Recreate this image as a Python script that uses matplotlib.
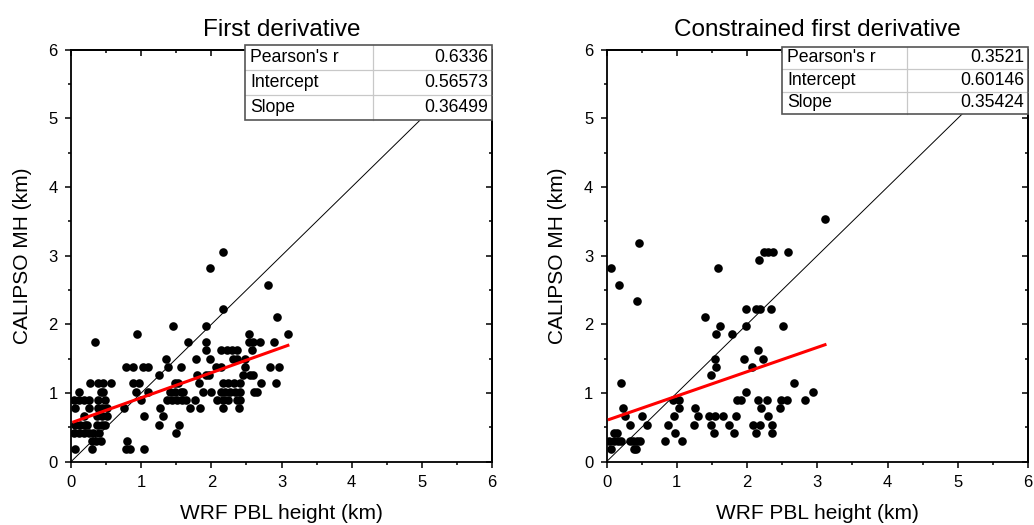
import matplotlib
matplotlib.use("Agg")
import matplotlib.pyplot as plt
from matplotlib.patches import Rectangle
from matplotlib.ticker import MultipleLocator
import numpy as np

plt.rcParams["font.family"] = ["Liberation Sans", "DejaVu Sans"]

# CALIPSO MH levels (km) and the WRF PBL heights (km) found on each level
left_levels = [0.18, 0.30, 0.42, 0.54, 0.66, 0.78, 0.90, 1.02, 1.14, 1.26, 1.38,
               1.50, 1.62, 1.74, 1.86, 1.98, 2.10, 2.22, 2.58, 2.82, 3.06]
left_x_by_level = [
    [0.05, 0.30, 0.78, 0.84, 1.04],
    [0.30, 0.36, 0.42, 0.80],
    [0.04, 0.11, 0.19, 0.26, 0.32, 0.40, 1.50],
    [0.06, 0.13, 0.20, 0.23, 0.37, 0.44, 0.49, 1.25, 1.54],
    [0.18, 0.37, 0.44, 0.51, 1.04, 1.31],
    [0.06, 0.26, 0.39, 0.44, 0.51, 0.76, 1.27, 1.70, 1.84, 2.17, 2.39],
    [0.04, 0.11, 0.18, 0.25, 0.39, 0.49, 0.99, 1.37, 1.44, 1.51, 1.58, 1.64,
     1.77, 2.08, 2.17, 2.24, 2.36, 2.41],
    [0.12, 0.42, 0.46, 0.93, 1.09, 1.41, 1.48, 1.56, 1.60, 1.88, 1.99, 2.13,
     2.20, 2.27, 2.34, 2.41, 2.61, 2.65],
    [0.27, 0.39, 0.46, 0.57, 0.88, 0.97, 1.48, 1.53, 1.83, 2.17, 2.24, 2.32,
     2.41, 2.70, 2.92],
    [1.26, 1.79, 1.93, 1.96, 2.45, 2.55, 2.59],
    [0.79, 0.88, 1.03, 1.09, 1.38, 1.56, 2.07, 2.13, 2.48, 2.84, 2.96],
    [1.35, 1.78, 1.98, 2.31, 2.36, 2.48],
    [1.93, 2.13, 2.22, 2.29, 2.36, 2.58],
    [0.34, 1.67, 1.93, 2.53, 2.60, 2.69, 2.89],
    [0.94, 2.54, 3.09],
    [1.46, 1.93],
    [2.93],
    [2.17],
    [2.81],
    [1.98],
    [2.17],
]

right_levels = [0.18, 0.30, 0.42, 0.54, 0.66, 0.78, 0.90, 1.02, 1.14, 1.26, 1.38,
                1.50, 1.62, 1.86, 1.98, 2.10, 2.22, 2.34, 2.58, 2.82, 2.94, 3.06,
                3.18, 3.54]
right_x_by_level = [
    [0.06, 0.39, 0.42],
    [0.04, 0.10, 0.17, 0.20, 0.33, 0.38, 0.43, 0.47, 0.83, 1.08],
    [0.10, 0.15, 0.98, 1.53, 1.81, 2.13, 2.36],
    [0.33, 0.57, 0.87, 1.25, 1.49, 1.75, 2.09, 2.19, 2.36],
    [0.26, 0.51, 0.96, 1.30, 1.46, 1.54, 1.66, 1.84, 2.30],
    [0.23, 1.03, 1.26, 2.20, 2.47],
    [0.94, 1.03, 1.86, 1.92, 2.16, 2.28, 2.49, 2.57, 2.83],
    [1.98, 2.94],
    [0.20, 2.67],
    [1.48],
    [1.56, 2.07],
    [1.54, 1.96, 2.23],
    [2.16],
    [1.56, 1.78],
    [1.62, 1.98, 2.51],
    [1.40],
    [1.98, 2.13, 2.18, 2.34],
    [0.43],
    [0.18],
    [0.06, 1.58],
    [2.17],
    [2.24, 2.30, 2.37, 2.59],
    [0.46],
    [3.11],
]

stat_names = ["Pearson's r", "Intercept", "Slope"]
left_stats = ["0.6336", "0.56573", "0.36499"]
right_stats = ["0.3521", "0.60146", "0.35424"]
left_fit = (0.56573, 0.36499)
right_fit = (0.60146, 0.35424)

titles = ["First derivative", "Constrained first derivative"]


def flatten(levels, x_by_level):
    xs = np.concatenate([np.array(v) for v in x_by_level])
    ys = np.repeat(levels, [len(v) for v in x_by_level])
    return xs, ys


def draw_table(ax, names, values, x0, y0, w, h, split):
    n = len(names)
    rh = h / n
    xs = x0 + w * split
    tr = ax.transAxes
    for i in range(1, n):
        ax.plot([x0, x0 + w], [y0 + i * rh] * 2, color="#c8c8c8", lw=0.9,
                transform=tr, clip_on=False, zorder=6)
    ax.plot([xs, xs], [y0, y0 + h], color="#c8c8c8", lw=0.9,
            transform=tr, clip_on=False, zorder=6)
    ax.add_patch(Rectangle((x0, y0), w, h, transform=tr, facecolor="white",
                           edgecolor="none", clip_on=False, zorder=5))
    ax.add_patch(Rectangle((x0, y0), w, h, transform=tr, facecolor="none",
                           edgecolor="#555555", lw=1.2, clip_on=False, zorder=7))
    for i, (nm, val) in enumerate(zip(names, values)):
        yc = y0 + h - (i + 0.5) * rh
        ax.text(x0 + 0.012, yc, nm, transform=tr, ha="left", va="center",
                fontsize=12.7, zorder=8)
        ax.text(x0 + w - 0.009, yc, val, transform=tr, ha="right", va="center",
                fontsize=12.7, zorder=8)


def style_axes(ax):
    ax.set_xlim(0, 6)
    ax.set_ylim(0, 6)
    for sp in ax.spines.values():
        sp.set_linewidth(1.3)
    ax.xaxis.set_major_locator(MultipleLocator(1))
    ax.xaxis.set_minor_locator(MultipleLocator(0.5))
    ax.yaxis.set_major_locator(MultipleLocator(1))
    ax.yaxis.set_minor_locator(MultipleLocator(0.5))
    ax.tick_params(which="major", direction="out", length=4.5, width=1.1,
                   labelsize=12, pad=5)
    ax.tick_params(which="minor", direction="out", length=2.5, width=1.1)
    # top and right ticks point inwards
    for sec in (ax.secondary_xaxis("top"), ax.secondary_yaxis("right")):
        sec.tick_params(which="major", direction="in", length=4.5, width=1.1,
                        labelleft=False, labelright=False, labeltop=False,
                        labelbottom=False)
        sec.tick_params(which="minor", direction="in", length=2.5, width=1.1)
        sec.xaxis.set_major_locator(MultipleLocator(1))
        sec.yaxis.set_major_locator(MultipleLocator(1))
        sec.xaxis.set_minor_locator(MultipleLocator(0.5))
        sec.yaxis.set_minor_locator(MultipleLocator(0.5))
        for sp in sec.spines.values():
            sp.set_linewidth(1.3)
    ax.set_xlabel("WRF PBL height (km)", fontsize=15, labelpad=10)
    ax.set_ylabel("CALIPSO MH (km)", fontsize=15, labelpad=12)


fig = plt.figure(figsize=(10.34, 5.25), dpi=100)
ax_l = fig.add_axes([0.0687, 0.1206, 0.4072, 0.7848])
ax_r = fig.add_axes([0.5866, 0.1206, 0.4076, 0.7848])

panels = [
    (ax_l, left_levels, left_x_by_level, left_fit, left_stats,
     (0.413, 0.829, 0.587, 0.182, 0.518)),
    (ax_r, right_levels, right_x_by_level, right_fit, right_stats,
     (0.416, 0.844, 0.584, 0.163, 0.507)),
]

for (ax, levels, xbl, fit, stats, tb), title in zip(panels, titles):
    xs, ys = flatten(levels, xbl)
    ax.plot([0, 6], [0, 6], color="black", lw=0.7, zorder=2)
    ax.plot(xs, ys, "o", color="black", ms=6.2, mew=0, zorder=3)
    fx = np.array([xs.min(), xs.max()])
    ax.plot(fx, fit[0] + fit[1] * fx, color="#ff0000", lw=2.2, zorder=4)
    style_axes(ax)
    ax.set_title(title, fontsize=17.5, pad=9.5)
    draw_table(ax, stat_names, stats, *tb)

fig.savefig("out.png", dpi=100)
